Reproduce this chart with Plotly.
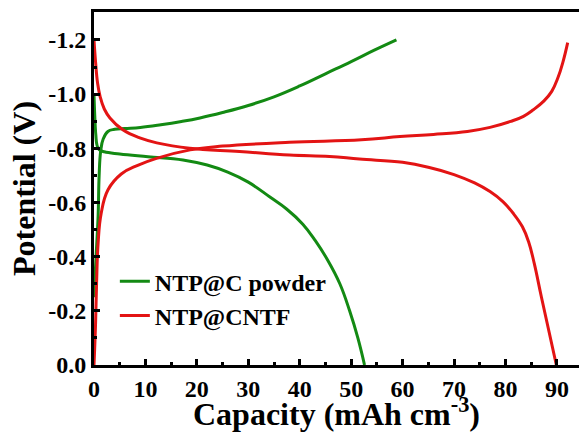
import plotly.graph_objects as go

# ---- data ----
green_charge_x = [0.0, 0.4, 0.8, 1.0, 1.3, 1.8, 2.7, 4.0, 6.0, 9.0, 13.0, 17.0, 20.6, 25.0, 30.0, 35.0, 40.0, 45.0, 50.0, 54.5, 58.8]
green_charge_y = [-0.25, -0.40, -0.55, -0.70, -0.79, -0.835, -0.862, -0.870, -0.873, -0.877, -0.887, -0.899, -0.912, -0.932, -0.958, -0.99, -1.03, -1.075, -1.12, -1.162, -1.20]

green_dis_x = [0.0, 0.15, 0.35, 0.6, 1.0, 2.0, 5.0, 10.5, 17.3, 22.0, 26.0, 30.0, 34.2, 37.5, 40.6, 43.0, 45.5, 47.8, 49.7, 51.3, 52.6]
green_dis_y = [-1.00, -0.92, -0.85, -0.81, -0.795, -0.787, -0.779, -0.769, -0.757, -0.738, -0.712, -0.675, -0.62, -0.575, -0.52, -0.46, -0.385, -0.30, -0.20, -0.10, 0.0]

red_charge_x = [0.0, 0.3, 0.5, 0.8, 1.4, 2.7, 5.3, 8.5, 12.0, 18.7, 25.0, 38.0, 52.0, 59.5, 66.0, 72.6, 77.0, 81.0, 83.5, 85.4, 87.5, 89.0, 90.2, 91.2, 92.1]
red_charge_y = [0.0, -0.15, -0.30, -0.45, -0.56, -0.646, -0.705, -0.737, -0.762, -0.794, -0.808, -0.822, -0.831, -0.843, -0.851, -0.862, -0.877, -0.899, -0.918, -0.942, -0.975, -1.01, -1.06, -1.12, -1.19]

red_dis_x = [0.0, 0.3, 0.7, 1.2, 2.0, 3.1, 5.6, 8.9, 12.2, 18.6, 28.3, 38.0, 45.8, 51.6, 60.0, 65.0, 70.0, 74.0, 77.0, 79.5, 81.5, 83.3, 84.5, 85.6, 87.0, 89.9]
red_dis_y = [-1.20, -1.12, -1.04, -0.99, -0.945, -0.912, -0.868, -0.838, -0.82, -0.80, -0.788, -0.775, -0.77, -0.76, -0.748, -0.73, -0.703, -0.672, -0.64, -0.603, -0.56, -0.51, -0.455, -0.375, -0.25, 0.0]

series_names = ["NTP@C powder", "NTP@CNTF"]

x_tickvals = [0, 10, 20, 30, 40, 50, 60, 70, 80, 90]
x_ticktext = ["0", "10", "20", "30", "40", "50", "60", "70", "80", "90"]
x_minorvals = [5, 15, 25, 35, 45, 55, 65, 75, 85]
y_tickvals = [0.0, -0.2, -0.4, -0.6, -0.8, -1.0, -1.2]
y_ticktext = ["0.0", "-0.2", "-0.4", "-0.6", "-0.8", "-1.0", "-1.2"]
y_minorvals = [-0.1, -0.3, -0.5, -0.7, -0.9, -1.1]

GREEN = "#138a13"
RED = "#e31414"
FONT = "Liberation Serif"

line_green = dict(color=GREEN, width=3, shape="spline", smoothing=1.2)
line_red = dict(color=RED, width=3, shape="spline", smoothing=1.2)

fig = go.Figure()
fig.add_trace(go.Scatter(x=green_charge_x, y=green_charge_y, mode="lines", line=line_green,
                         name=series_names[0], legendgroup="g"))
fig.add_trace(go.Scatter(x=green_dis_x, y=green_dis_y, mode="lines", line=line_green,
                         name=series_names[0], legendgroup="g", showlegend=False))
fig.add_trace(go.Scatter(x=red_charge_x, y=red_charge_y, mode="lines", line=line_red,
                         name=series_names[1], legendgroup="r"))
fig.add_trace(go.Scatter(x=red_dis_x, y=red_dis_y, mode="lines", line=line_red,
                         name=series_names[1], legendgroup="r", showlegend=False))

axis_common = dict(showline=True, linecolor="black", linewidth=3, showgrid=False,
                   zeroline=False, ticks="inside", ticklen=6, tickwidth=2.5, tickcolor="black",
                   tickfont=dict(family=FONT, size=24, color="black", weight="bold"))

fig.update_xaxes(range=[0, 94.3], tickmode="array", tickvals=x_tickvals, ticktext=x_ticktext,
                 mirror=True,
                 minor=dict(tickmode="array", tickvals=x_minorvals, ticks="inside", ticklen=3,
                            tickwidth=2.5, tickcolor="black"),
                 title=dict(text="Capacity (mAh cm<sup>-3</sup>)", standoff=2,
                            font=dict(family=FONT, size=32, color="black", weight="bold")),
                 **axis_common)
fig.update_yaxes(range=[0, -1.303], tickmode="array", tickvals=y_tickvals, ticktext=y_ticktext,
                 minor=dict(tickmode="array", tickvals=y_minorvals, ticks="inside", ticklen=3,
                            tickwidth=2.5, tickcolor="black"),
                 title=dict(text="Potential (V)", standoff=4,
                            font=dict(family=FONT, size=32, color="black", weight="bold")),
                 **axis_common)

fig.update_layout(width=579, height=432, margin=dict(l=94, r=0, t=12, b=67),
                  plot_bgcolor="white", paper_bgcolor="white",
                  showlegend=True,
                  legend=dict(x=0.043, y=0.3, xanchor="left", yanchor="top",
                              bgcolor="rgba(0,0,0,0)", tracegroupgap=0,
                              font=dict(family=FONT, size=24, color="black", weight="bold")))

fig.write_html("out.html")
